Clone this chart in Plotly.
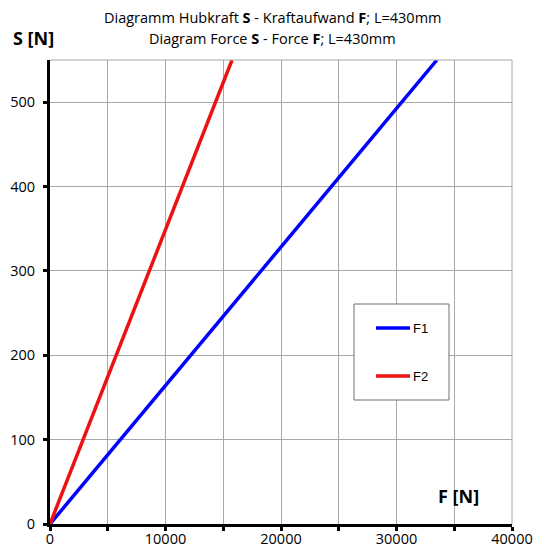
import plotly.graph_objects as go

# Data
f1_force = [0, 33500]
f1_lift = [0, 550]
f2_force = [0, 15760]
f2_lift = [0, 550]

x_tickvals = [0, 5000, 10000, 15000, 20000, 25000, 30000, 35000, 40000]
x_ticktext = ["0", "", "10000", "", "20000", "", "30000", "", "40000"]
y_tickvals = [0, 100, 200, 300, 400, 500]

series_names = ["F1", "F2"]
series_colors = ["#0000ff", "#ee1111"]

TXT = "Open Sans, Lato, sans-serif"
LEG = "Liberation Sans, Arial, sans-serif"

fig = go.Figure()
fig.add_trace(go.Scatter(x=f1_force, y=f1_lift, mode="lines", name=series_names[0],
                         line=dict(color=series_colors[0], width=3.5)))
fig.add_trace(go.Scatter(x=f2_force, y=f2_lift, mode="lines", name=series_names[1],
                         line=dict(color=series_colors[1], width=3.5)))

tick_font = dict(family=TXT, size=14.5, color="black")

# helper: page pixel -> paper coords (plot area 50..512 x, 60..524 y)
def px(x):
    return (x - 50) / 462.0

def py(y):
    return (524 - y) / 464.0

shapes = [
    dict(type="line", xref="paper", yref="paper", x0=0, x1=1, y0=1, y1=1,
         line=dict(color="#a8a8a8", width=1)),
    dict(type="line", xref="paper", yref="paper", x0=1, x1=1, y0=0, y1=1,
         line=dict(color="#a8a8a8", width=1)),
    # legend box
    dict(type="rect", xref="paper", yref="paper", x0=px(354), x1=px(449), y0=py(400), y1=py(304),
         fillcolor="white", line=dict(color="#707070", width=1), layer="above"),
]
annotations = [
    dict(text="Diagramm Hubkraft <b>S</b> - Kraftaufwand <b>F</b>; L=430mm",
         xref="paper", yref="paper", x=px(272), y=py(17), xanchor="center", yanchor="middle",
         showarrow=False, font=dict(family=TXT, size=14.5, color="black")),
    dict(text="Diagram Force <b>S</b> - Force <b>F</b>; L=430mm",
         xref="paper", yref="paper", x=px(272), y=py(38), xanchor="center", yanchor="middle",
         showarrow=False, font=dict(family=TXT, size=14.5, color="black")),
    dict(text="<b>S [N]</b>", xref="paper", yref="paper", x=px(11), y=py(38),
         xanchor="left", yanchor="middle", showarrow=False,
         font=dict(family=TXT, size=18, color="black")),
    dict(text="<b>F [N]</b>", xref="paper", yref="paper", x=px(436), y=py(496),
         xanchor="left", yanchor="middle", showarrow=False,
         font=dict(family=TXT, size=18, color="black")),
]
legend_rows = [328, 376]
for name, color, row in zip(series_names, series_colors, legend_rows):
    shapes.append(dict(type="line", xref="paper", yref="paper", x0=px(376), x1=px(410),
                       y0=py(row), y1=py(row), line=dict(color=color, width=3.5), layer="above"))
    annotations.append(dict(text=name, xref="paper", yref="paper", x=px(411), y=py(row),
                            xanchor="left", yanchor="middle", showarrow=False,
                            font=dict(family=LEG, size=13, color="black")))

# page body has an 8px margin, so the figure is 8px smaller and margins compensate
fig.update_layout(
    width=535, height=541,
    margin=dict(l=42, r=31, t=52, b=25, autoexpand=False),
    paper_bgcolor="white", plot_bgcolor="white",
    showlegend=False,
    xaxis=dict(
        range=[0, 40000], tickvals=x_tickvals, ticktext=x_ticktext,
        showgrid=True, gridcolor="#a8a8a8", gridwidth=1,
        showline=True, linecolor="black", linewidth=3,
        ticks="outside", ticklen=4, tickwidth=3, tickcolor="black",
        tickfont=tick_font, zeroline=False, automargin=False, ticklabelstandoff=-4,
    ),
    yaxis=dict(
        range=[0, 550], tickvals=y_tickvals,
        showgrid=True, gridcolor="#a8a8a8", gridwidth=1,
        showline=True, linecolor="black", linewidth=3,
        ticks="outside", ticklen=4, tickwidth=3, tickcolor="black",
        tickfont=tick_font, zeroline=False, ticklabelstandoff=5, automargin=False,
    ),
    shapes=shapes,
    annotations=annotations,
)

fig.write_html("out.html")
